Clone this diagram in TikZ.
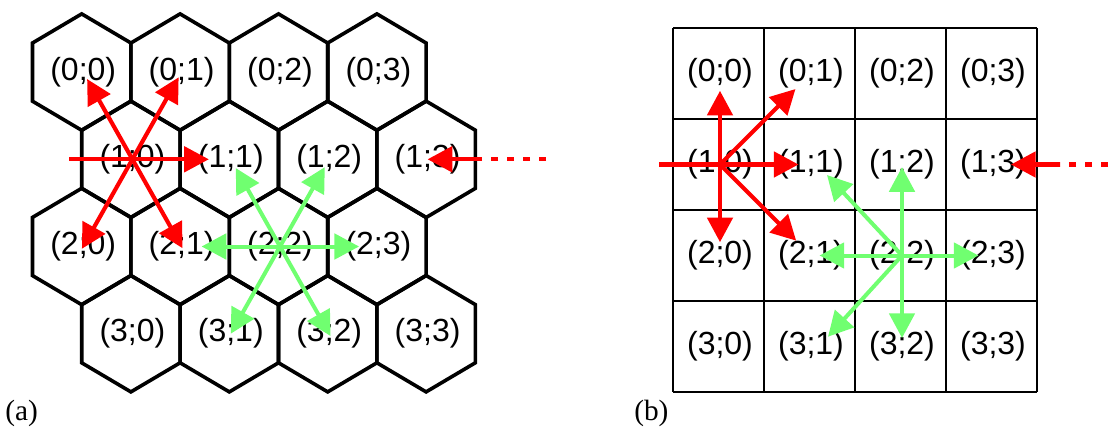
\documentclass[tikz,border=0pt]{standalone}
\usepackage{fontspec}
\setmainfont{Liberation Serif}
\newfontfamily\labfont{Liberation Sans}
\usetikzlibrary{arrows.meta}
\definecolor{lgreen}{RGB}{112,255,112}
\definecolor{tred}{RGB}{255,0,0}
\begin{document}
\begin{tikzpicture}[x=0.75pt,y=-0.75pt,
  hexline/.style={line width=2.7pt, line join=miter},
  gridline/.style={line width=2.2pt},
  lbl/.style={inner sep=0pt, font=\labfont\fontsize{24pt}{28pt}\selectfont},
  captxt/.style={inner sep=0pt, anchor=base west, font=\fontsize{22pt}{26pt}\selectfont},
  arr/.style={-{Triangle[length=18.5pt,width=19pt]}},
  redarr/.style={arr, draw=tred, line width=3.1pt},
  redline/.style={draw=tred, line width=3.1pt},
  reddash/.style={draw=tred, line width=3.1pt, dash pattern=on 5.25pt off 6.75pt},
  grnarr/.style={arr, draw=lgreen, line width=3pt}
]
\useasboundingbox (0,0) rectangle (1118,428);

% ---------- (a) hexagonal grid ----------
\def\R{58.2}
\def\W{49.2}
\foreach \r in {0,...,3}{
  \foreach \c in {0,...,3}{
    \pgfmathsetmacro\cx{81.7+98.4*\c+49.2*mod(\r,2)}
    \pgfmathsetmacro\cy{72.1+87.2*\r}
    \draw[hexline] (\cx,\cy-\R) -- (\cx+\W,\cy-\R/2) -- (\cx+\W,\cy+\R/2)
      -- (\cx,\cy+\R) -- (\cx-\W,\cy+\R/2) -- (\cx-\W,\cy-\R/2) -- cycle;
    \node[lbl] (h\r\c) at (\cx+1.5,\cy) {(\r;\c)};
  }
}

% red arrows (a)
\draw[redarr, shorten >=6pt] (h10.center) -- (h00.center);
\draw[redarr, shorten >=4.5pt] (h10.center) -- (h01.center);
\draw[redarr, shorten >=16.5pt] (h10.center) -- (h11.center);
\draw[redarr, shorten >=-2pt] (h10.center) -- (h20.center);
\draw[redarr, shorten >=-1.5pt] (h10.center) -- (h21.center);
\coordinate (aL) at (69,159.3);
\draw[redline] (aL) -- (h10.center);
\coordinate (aR) at (546,159.3);
\coordinate (aRs) at (478,159.3);
\draw[reddash] (aR) -- (aRs);
\draw[redarr] (aRs) -- (h13.center);

% green arrows (a)
\draw[grnarr, shorten >=7.5pt] (h22.center) -- (h11.center);
\draw[grnarr, shorten >=6.75pt] (h22.center) -- (h12.center);
\draw[grnarr, shorten >=15pt] (h22.center) -- (h21.center);
\draw[grnarr, shorten >=14.5pt] (h22.center) -- (h23.center);
\draw[grnarr] (h22.center) -- (h31.center);
\draw[grnarr, shorten >=-2pt] (h22.center) -- (h32.center);

\node[captxt] (capa) at (5,420) {(a)};

% ---------- (b) square grid ----------
\foreach \i in {0,...,4}{
  \draw[gridline] (673+91*\i,28) -- (673+91*\i,392);
  \draw[gridline] (673,28+91*\i) -- (1037,28+91*\i);
}
\foreach \r in {0,...,3}{
  \foreach \c in {0,...,3}{
    \node[lbl] (g\r\c) at (720+91*\c,73.5+91*\r) {(\r;\c)};
  }
}

% red arrows (b)
\draw[redarr, shorten >=13pt] (g10.center) -- (g00.center);
\draw[redarr, shorten >=16.5pt] (g10.center) -- (g01.center);
\draw[redarr, shorten >=9.4pt] (g10.center) -- (g11.center);
\draw[redarr, shorten >=10pt] (g10.center) -- (g20.center);
\draw[redarr, shorten >=15.75pt] (g10.center) -- (g21.center);
\coordinate (bL) at (659,164.5);
\draw[redline] (bL) -- (g10.center);
\coordinate (bR) at (1108,164.5);
\coordinate (bRs) at (1060,164.5);
\draw[reddash] (bR) -- (bRs);
\draw[redarr, shorten >=13.5pt] (bRs) -- (g13.center);

% green arrows (b)
\draw[grnarr] (g22.center) -- ([xshift=12pt,yshift=-7.9pt]g11.center);
\draw[grnarr, shorten >=2pt] (g22.center) -- (g12.center);
\draw[grnarr, shorten >=6.4pt] (g22.center) -- (g21.center);
\draw[grnarr, shorten >=10.9pt] (g22.center) -- (g23.center);
\draw[grnarr] (g22.center) -- ([xshift=12.75pt,yshift=7.35pt]g31.center);
\draw[grnarr, shorten >=6.4pt] (g22.center) -- (g32.center);

\node[captxt] (capb) at (634,420) {(b)};
\end{tikzpicture}
\end{document}
